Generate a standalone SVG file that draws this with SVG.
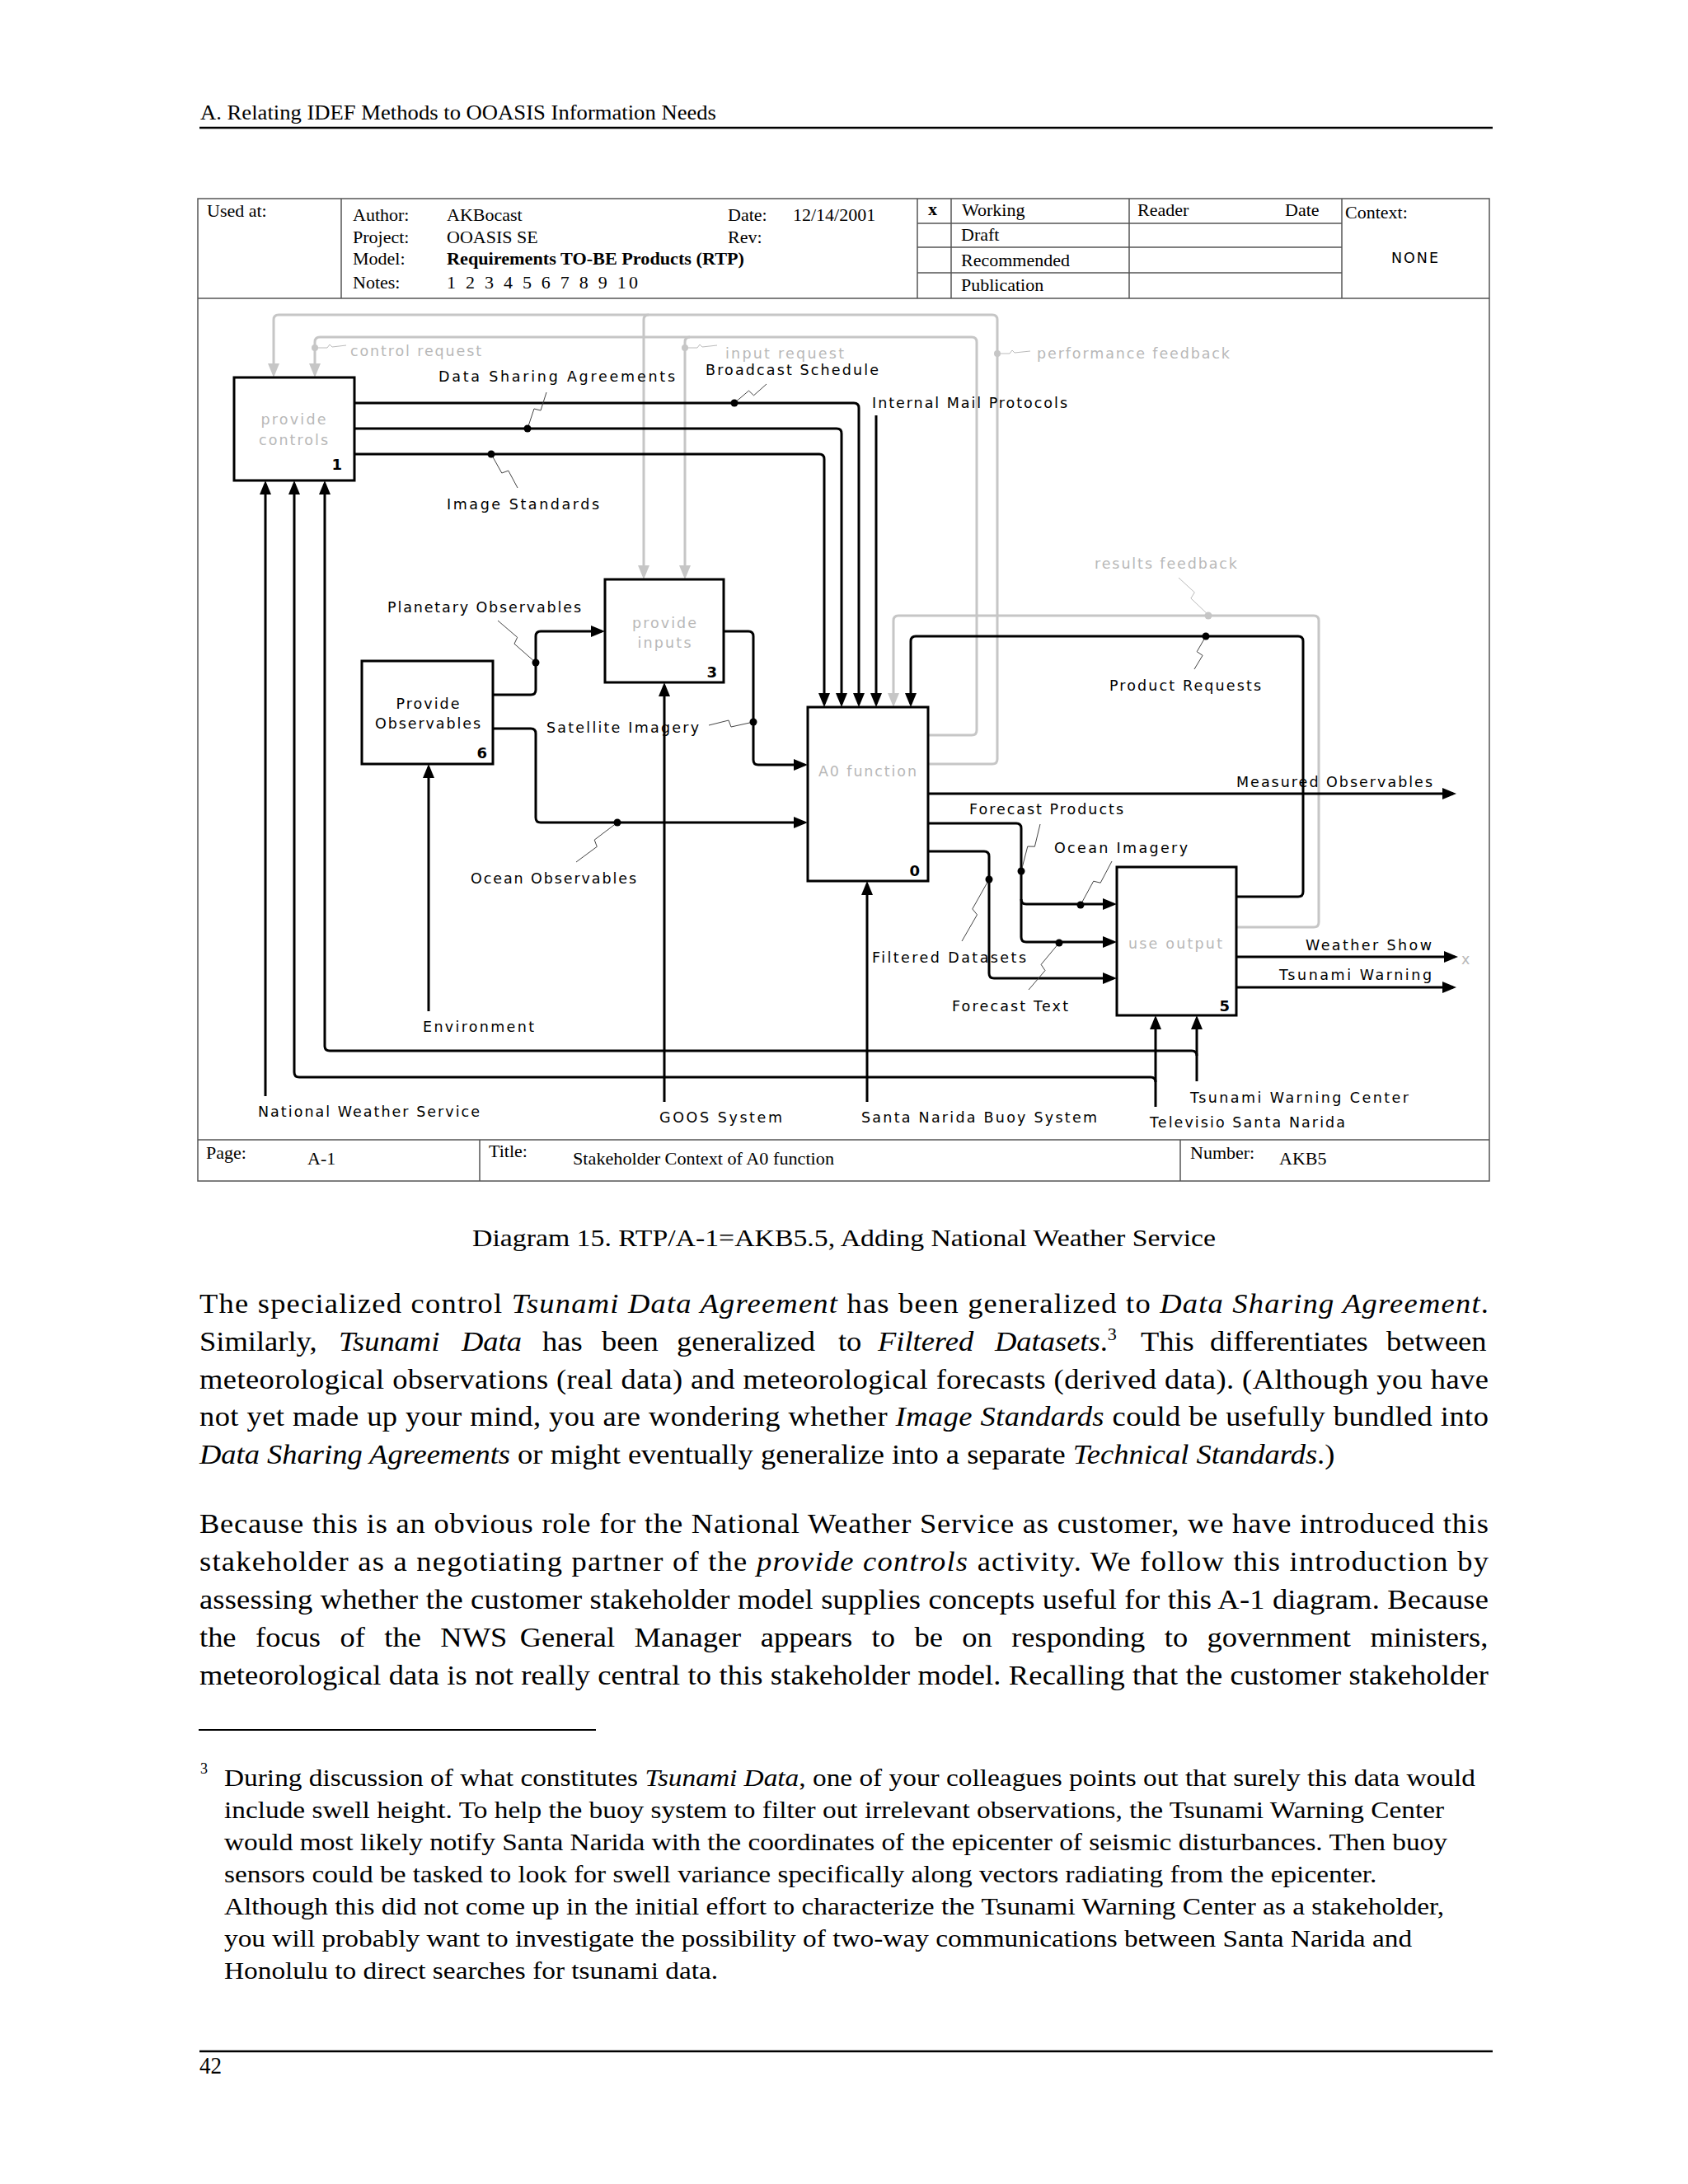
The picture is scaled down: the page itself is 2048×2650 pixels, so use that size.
<svg xmlns="http://www.w3.org/2000/svg" width="2048" height="2650" viewBox="0 0 2048 2650">
<defs>
<style>
.serif{font-family:"Liberation Serif","Times New Roman",serif;fill:#000}
.hd{font-family:"Liberation Serif","Times New Roman",serif;font-size:22px;fill:#000}
.lbl{font-family:"DejaVu Sans","Liberation Sans",sans-serif;font-size:17.5px;fill:#000}
.glbl{font-family:"DejaVu Sans","Liberation Sans",sans-serif;font-size:17.5px;fill:#b8b8b8}
.num{font-family:"DejaVu Sans","Liberation Sans",sans-serif;font-size:18px;font-weight:bold;fill:#000}
.box{fill:#fff;stroke:#000;stroke-width:3}
.ln{fill:none;stroke:#000;stroke-width:3}
.gln{fill:none;stroke:#c6c6c6;stroke-width:3}
.ldr{fill:none;stroke:#444;stroke-width:1}
.gldr{fill:none;stroke:#bbb;stroke-width:1}
.frm{fill:none;stroke:#555;stroke-width:1.5}
.rule{stroke:#000;stroke-width:2.5}
</style>
<marker id="ah" viewBox="0 0 17 14" refX="13" refY="7" markerWidth="17" markerHeight="14" markerUnits="userSpaceOnUse" orient="auto">
<path d="M0,0 L17,7 L0,14 z" fill="#000"/>
</marker>
<marker id="gah" viewBox="0 0 17 14" refX="13" refY="7" markerWidth="17" markerHeight="14" markerUnits="userSpaceOnUse" orient="auto">
<path d="M0,0 L17,7 L0,14 z" fill="#c6c6c6"/>
</marker>
</defs>
<rect x="0" y="0" width="2048" height="2650" fill="#fff"/>

<!-- page header -->
<text class="serif" x="243" y="145" font-size="25" textLength="626" lengthAdjust="spacingAndGlyphs">A. Relating IDEF Methods to OOASIS Information Needs</text>
<line class="rule" x1="242" y1="155" x2="1811" y2="155"/>

<!-- title block frame -->
<g id="frame">
<rect class="frm" x="240" y="241" width="1567" height="1192"/>
<line class="frm" x1="240" y1="362" x2="1807" y2="362"/>
<line class="frm" x1="240" y1="1383" x2="1807" y2="1383"/>
<line class="frm" x1="414" y1="241" x2="414" y2="362"/>
<line class="frm" x1="1113" y1="241" x2="1113" y2="362"/>
<line class="frm" x1="1154" y1="241" x2="1154" y2="362"/>
<line class="frm" x1="1370" y1="241" x2="1370" y2="362"/>
<line class="frm" x1="1628" y1="241" x2="1628" y2="362"/>
<line class="frm" x1="1113" y1="271" x2="1628" y2="271"/>
<line class="frm" x1="1113" y1="300" x2="1628" y2="300"/>
<line class="frm" x1="1113" y1="331" x2="1628" y2="331"/>
<line class="frm" x1="582" y1="1383" x2="582" y2="1433"/>
<line class="frm" x1="1432" y1="1383" x2="1432" y2="1433"/>
<text class="hd" x="251" y="263">Used at:</text>
<text class="hd" x="428" y="268">Author:</text>
<text class="hd" x="542" y="268">AKBocast</text>
<text class="hd" x="883" y="268">Date:</text>
<text class="hd" x="962" y="268">12/14/2001</text>
<text class="hd" x="428" y="295">Project:</text>
<text class="hd" x="542" y="295">OOASIS SE</text>
<text class="hd" x="883" y="295">Rev:</text>
<text class="hd" x="428" y="321">Model:</text>
<text class="hd" x="542" y="321" font-weight="bold" textLength="361" lengthAdjust="spacingAndGlyphs">Requirements TO-BE Products (RTP)</text>
<text class="hd" x="428" y="350">Notes:</text>
<text class="hd" x="542" y="350" textLength="232">1 2 3 4 5 6 7 8 9 10</text>
<text class="hd" x="1126" y="261" font-weight="bold">x</text>
<text class="hd" x="1167" y="262">Working</text>
<text class="hd" x="1380" y="262">Reader</text>
<text class="hd" x="1559" y="262">Date</text>
<text class="hd" x="1632" y="265">Context:</text>
<text class="hd" x="1166" y="292">Draft</text>
<text class="hd" x="1166" y="323">Recommended</text>
<text class="hd" x="1166" y="353">Publication</text>
<text class="lbl" x="1688" y="319" textLength="57">NONE</text>
<text class="hd" x="250" y="1406">Page:</text>
<text class="hd" x="373" y="1413">A-1</text>
<text class="hd" x="593" y="1404">Title:</text>
<text class="hd" x="695" y="1413" textLength="317" lengthAdjust="spacingAndGlyphs">Stakeholder Context of A0 function</text>
<text class="hd" x="1444" y="1406">Number:</text>
<text class="hd" x="1552" y="1413">AKB5</text>
</g>

<!-- connectors -->
<g id="connectors">
<path class="gln" d="M1126,927 H1204 Q1210,927 1210,921 V388 Q1210,382 1204,382 H338 Q332,382 332,388 V454" marker-end="url(#gah)"/>
<path class="gln" d="M787,382 Q781,382 781,388 V699" marker-end="url(#gah)"/>
<path class="gln" d="M1126,892 H1179 Q1185,892 1185,886 V415 Q1185,409 1179,409 H388 Q382,409 382,415 V454" marker-end="url(#gah)"/>
<path class="gln" d="M837,409 Q831,409 831,415 V699" marker-end="url(#gah)"/>
<path class="gln" d="M1500,1125 H1594 Q1600,1125 1600,1119 V753 Q1600,747 1594,747 H1090 Q1084,747 1084,753 V854" marker-end="url(#gah)"/>

<path class="ln" d="M430,489 H1036 Q1042,489 1042,495 V854" marker-end="url(#ah)"/>
<path class="ln" d="M430,520 H1015 Q1021,520 1021,526 V854" marker-end="url(#ah)"/>
<path class="ln" d="M430,551 H994 Q1000,551 1000,557 V854" marker-end="url(#ah)"/>
<path class="ln" d="M1063,504 V854" marker-end="url(#ah)"/>
<path class="ln" d="M1500,1088 H1575 Q1581,1088 1581,1082 V778 Q1581,772 1575,772 H1111 Q1105,772 1105,778 V854" marker-end="url(#ah)"/>
<path class="ln" d="M598,843 H644 Q650,843 650,837 V772 Q650,766 656,766 H730" marker-end="url(#ah)"/>
<path class="ln" d="M598,884 H644 Q650,884 650,890 V992 Q650,998 656,998 H976" marker-end="url(#ah)"/>
<path class="ln" d="M878,766 H908 Q914,766 914,772 V922 Q914,928 920,928 H976" marker-end="url(#ah)"/>
<path class="ln" d="M1126,963 H1763" marker-end="url(#ah)"/>
<path class="ln" d="M1126,999 H1233 Q1239,999 1239,1005 V1137 Q1239,1143 1245,1143 H1351" marker-end="url(#ah)"/>
<path class="ln" d="M1239,1091 Q1239,1097 1245,1097 H1351" marker-end="url(#ah)"/>
<path class="ln" d="M1126,1033 H1194 Q1200,1033 1200,1039 V1181 Q1200,1187 1206,1187 H1351" marker-end="url(#ah)"/>
<path class="ln" d="M1500,1161 H1765" marker-end="url(#ah)"/>
<path class="ln" d="M1500,1198 H1763" marker-end="url(#ah)"/>
<path class="ln" d="M520,1227 V931" marker-end="url(#ah)"/>
<path class="ln" d="M806,1337 V832" marker-end="url(#ah)"/>
<path class="ln" d="M1052,1337 V1073" marker-end="url(#ah)"/>
<path class="ln" d="M322,1330 V587" marker-end="url(#ah)"/>
<path class="ln" d="M1402,1343 V1236" marker-end="url(#ah)"/>
<path class="ln" d="M1402,1313 Q1402,1307 1396,1307 H363 Q357,1307 357,1301 V587" marker-end="url(#ah)"/>
<path class="ln" d="M1452,1312 V1236" marker-end="url(#ah)"/>
<path class="ln" d="M1452,1281 Q1452,1275 1446,1275 H400 Q394,1275 394,1269 V587" marker-end="url(#ah)"/>

<!-- leaders -->
<path class="gldr" d="M384,422 L397,422 L400,418 L403,421 L420,419"/>
<path class="gldr" d="M833,422 L846,422 L849,418 L852,421 L870,419"/>
<path class="gldr" d="M1212,429 L1225,429 L1228,425 L1231,428 L1250,426"/>
<path class="gldr" d="M1430,701 L1449.3,718.8 L1444.9,726 L1466,746"/>
<path class="ldr" d="M663,476 L656,498 L648,496 L640,520"/>
<path class="ldr" d="M930,466 L914.5,479.8 L908.5,474.1 L891,489"/>
<path class="ldr" d="M628,592 L616.8,571.1 L608.8,574 L596,551"/>
<path class="ldr" d="M604,753 L627.7,773.3 L624,781.2 L650,804"/>
<path class="ldr" d="M860,880 L884,874 L887,882 L914,876"/>
<path class="ldr" d="M699,1046 L724.3,1027.3 L721.2,1019.1 L749,998"/>
<path class="ldr" d="M1449,812 L1459.1,795.3 L1452.2,790.7 L1463,772"/>
<path class="ldr" d="M1262,1000 L1255.4,1027.2 L1246.8,1027 L1239,1057"/>
<path class="ldr" d="M1349,1045 L1335.2,1071.2 L1326.7,1069.2 L1311,1098"/>
<path class="ldr" d="M1167,1142 L1185.5,1109.9 L1179.8,1102.9 L1200,1067"/>
<path class="ldr" d="M1248,1201 L1268,1177.6 L1263.1,1170.3 L1285,1144"/>

<!-- dots -->
<g fill="#c6c6c6">
<circle cx="382" cy="422" r="4"/>
<circle cx="831" cy="422" r="4"/>
<circle cx="1210" cy="429" r="4"/>
<circle cx="1466" cy="747" r="4.5"/>
</g>
<g fill="#000">
<circle cx="640" cy="520" r="4.5"/>
<circle cx="891" cy="489" r="4.5"/>
<circle cx="596" cy="551" r="4.5"/>
<circle cx="650" cy="804" r="4.5"/>
<circle cx="914" cy="876" r="4.5"/>
<circle cx="749" cy="998" r="4.5"/>
<circle cx="1463" cy="772" r="4.5"/>
<circle cx="1239" cy="1057" r="4.5"/>
<circle cx="1311" cy="1098" r="4.5"/>
<circle cx="1200" cy="1067" r="4.5"/>
<circle cx="1285" cy="1144" r="4.5"/>
</g>

<!-- connector labels -->
<text class="glbl" x="425" y="432" textLength="159">control request</text>
<text class="glbl" x="880" y="435" textLength="144">input request</text>
<text class="glbl" x="1258" y="435" textLength="234">performance feedback</text>
<text class="glbl" x="1328" y="690" textLength="173">results feedback</text>
<text class="lbl" x="532" y="463" textLength="287">Data Sharing Agreements</text>
<text class="lbl" x="856" y="455" textLength="210">Broadcast Schedule</text>
<text class="lbl" x="1058" y="495" textLength="237">Internal Mail Protocols</text>
<text class="lbl" x="542" y="618" textLength="185">Image Standards</text>
<text class="lbl" x="470" y="743" textLength="235">Planetary Observables</text>
<text class="lbl" x="663" y="889" textLength="185">Satellite Imagery</text>
<text class="lbl" x="571" y="1072" textLength="201">Ocean Observables</text>
<text class="lbl" x="1346" y="838" textLength="184">Product Requests</text>
<text class="lbl" x="1500" y="955" textLength="238">Measured Observables</text>
<text class="lbl" x="1176" y="988" textLength="187">Forecast Products</text>
<text class="lbl" x="1279" y="1035" textLength="162">Ocean Imagery</text>
<text class="lbl" x="1058" y="1168" textLength="187">Filtered Datasets</text>
<text class="lbl" x="1155" y="1227" textLength="141">Forecast Text</text>
<text class="lbl" x="1584" y="1153" textLength="153">Weather Show</text>
<text class="lbl" x="1552" y="1189" textLength="185">Tsunami Warning</text>
<text class="lbl" x="1444" y="1338" textLength="265">Tsunami Warning Center</text>
<text class="lbl" x="1395" y="1368" textLength="237">Televisio Santa Narida</text>
<text class="lbl" x="1045" y="1362" textLength="286">Santa Narida Buoy System</text>
<text class="lbl" x="800" y="1362" textLength="149">GOOS System</text>
<text class="lbl" x="313" y="1355" textLength="269">National Weather Service</text>
<text class="lbl" x="513" y="1252" textLength="135">Environment</text>
<text class="glbl" x="1773" y="1170" font-size="12">x</text>
</g>

<!-- nodes -->
<g id="node-provide-controls">
<rect class="box" x="284" y="458" width="146" height="125"/>
<text class="glbl" x="356" y="515" text-anchor="middle" textLength="79">provide</text>
<text class="glbl" x="356" y="540" text-anchor="middle" textLength="84">controls</text>
<text class="num" x="415" y="570" text-anchor="end">1</text>
</g>
<g id="node-provide-inputs">
<rect class="box" x="734" y="703" width="144" height="125"/>
<text class="glbl" x="806" y="762" text-anchor="middle" textLength="78">provide</text>
<text class="glbl" x="806" y="786" text-anchor="middle" textLength="65">inputs</text>
<text class="num" x="870" y="822" text-anchor="end">3</text>
</g>
<g id="node-provide-observables">
<rect class="box" x="439" y="802" width="159" height="125"/>
<text class="lbl" x="519" y="860" text-anchor="middle" textLength="77">Provide</text>
<text class="lbl" x="519" y="884" text-anchor="middle" textLength="128">Observables</text>
<text class="num" x="591" y="920" text-anchor="end">6</text>
</g>
<g id="node-a0-function">
<rect class="box" x="980" y="858" width="146" height="211"/>
<text class="glbl" x="993" y="942" textLength="119">A0 function</text>
<text class="num" x="1116" y="1063" text-anchor="end">0</text>
</g>
<g id="node-use-output">
<rect class="box" x="1355" y="1052" width="145" height="180"/>
<text class="glbl" x="1369" y="1151" textLength="114">use output</text>
<text class="num" x="1492" y="1227" text-anchor="end">5</text>
</g>

<!-- caption -->
<text class="serif" x="573" y="1512" font-size="30" textLength="902" lengthAdjust="spacingAndGlyphs">Diagram 15. RTP/A-1=AKB5.5, Adding National Weather Service</text>

<!-- body text -->
<g class="serif" font-size="33" transform="matrix(1.106,0,0,1,-25.65,0)">
<text x="242" y="1593" textLength="1414" lengthAdjust="spacing">The specialized control <tspan font-style="italic">Tsunami Data Agreement</tspan> has been generalized to <tspan font-style="italic">Data Sharing Agreement</tspan>.</text>
<text y="1639"><tspan x="242">Similarly,</tspan><tspan x="394.8" font-style="italic">Tsunami</tspan><tspan x="529.5" font-style="italic">Data</tspan><tspan x="618.1">has</tspan><tspan x="683.2">been</tspan><tspan x="765.5">generalized</tspan><tspan x="942.7">to</tspan><tspan x="986.1" font-style="italic">Filtered</tspan><tspan x="1114.5"><tspan font-style="italic">Datasets</tspan>.</tspan><tspan font-size="20" dy="-13">3</tspan><tspan x="1274.5" dy="13">This</tspan><tspan x="1350.5">differentiates</tspan><tspan x="1544">between</tspan></text>
<text x="242" y="1685" textLength="1414" lengthAdjust="spacing">meteorological observations (real data) and meteorological forecasts (derived data). (Although you have</text>
<text x="242" y="1730" textLength="1414" lengthAdjust="spacing">not yet made up your mind, you are wondering whether <tspan font-style="italic">Image Standards</tspan> could be usefully bundled into</text>
<text x="242" y="1776"><tspan font-style="italic">Data Sharing Agreements</tspan> or might eventually generalize into a separate <tspan font-style="italic">Technical Standards</tspan>.)</text>
<text x="242" y="1860" textLength="1414" lengthAdjust="spacing">Because this is an obvious role for the National Weather Service as customer, we have introduced this</text>
<text x="242" y="1906" textLength="1414" lengthAdjust="spacing">stakeholder as a negotiating partner of the <tspan font-style="italic">provide controls</tspan> activity. We follow this introduction by</text>
<text x="242" y="1952" textLength="1414" lengthAdjust="spacing">assessing whether the customer stakeholder model supplies concepts useful for this A-1 diagram. Because</text>
<text y="1998"><tspan x="242">the</tspan><tspan x="303.5">focus</tspan><tspan x="396.2">of</tspan><tspan x="444.8">the</tspan><tspan x="506.3">NWS</tspan><tspan x="593.4">General</tspan><tspan x="719">Manager</tspan><tspan x="857.5">appears</tspan><tspan x="979.4">to</tspan><tspan x="1026.3">be</tspan><tspan x="1078.6">on</tspan><tspan x="1132.8">responding</tspan><tspan x="1300.6">to</tspan><tspan x="1347.4">government</tspan><tspan x="1526.3">ministers,</tspan></text>
<text x="242" y="2044" textLength="1414" lengthAdjust="spacing">meteorological data is not really central to this stakeholder model. Recalling that the customer stakeholder</text>
</g>

<!-- footnote -->
<line x1="241" y1="2099" x2="723" y2="2099" stroke="#000" stroke-width="2"/>
<text class="serif" x="243" y="2152" font-size="18">3</text>
<g class="serif" font-size="29" transform="matrix(1.15,0,0,1,-40.8,0)">
<text x="272" y="2167">During discussion of what constitutes <tspan font-style="italic">Tsunami Data</tspan>, one of your colleagues points out that surely this data would</text>
<text x="272" y="2206">include swell height. To help the buoy system to filter out irrelevant observations, the Tsunami Warning Center</text>
<text x="272" y="2245">would most likely notify Santa Narida with the coordinates of the epicenter of seismic disturbances. Then buoy</text>
<text x="272" y="2284">sensors could be tasked to look for swell variance specifically along vectors radiating from the epicenter.</text>
<text x="272" y="2323">Although this did not come up in the initial effort to characterize the Tsunami Warning Center as a stakeholder,</text>
<text x="272" y="2362">you will probably want to investigate the possibility of two-way communications between Santa Narida and</text>
<text x="272" y="2401">Honolulu to direct searches for tsunami data.</text>
</g>

<line class="rule" x1="242" y1="2489" x2="1811" y2="2489"/>
<text class="serif" x="242" y="2516" font-size="29" textLength="27" lengthAdjust="spacingAndGlyphs">42</text>
</svg>
